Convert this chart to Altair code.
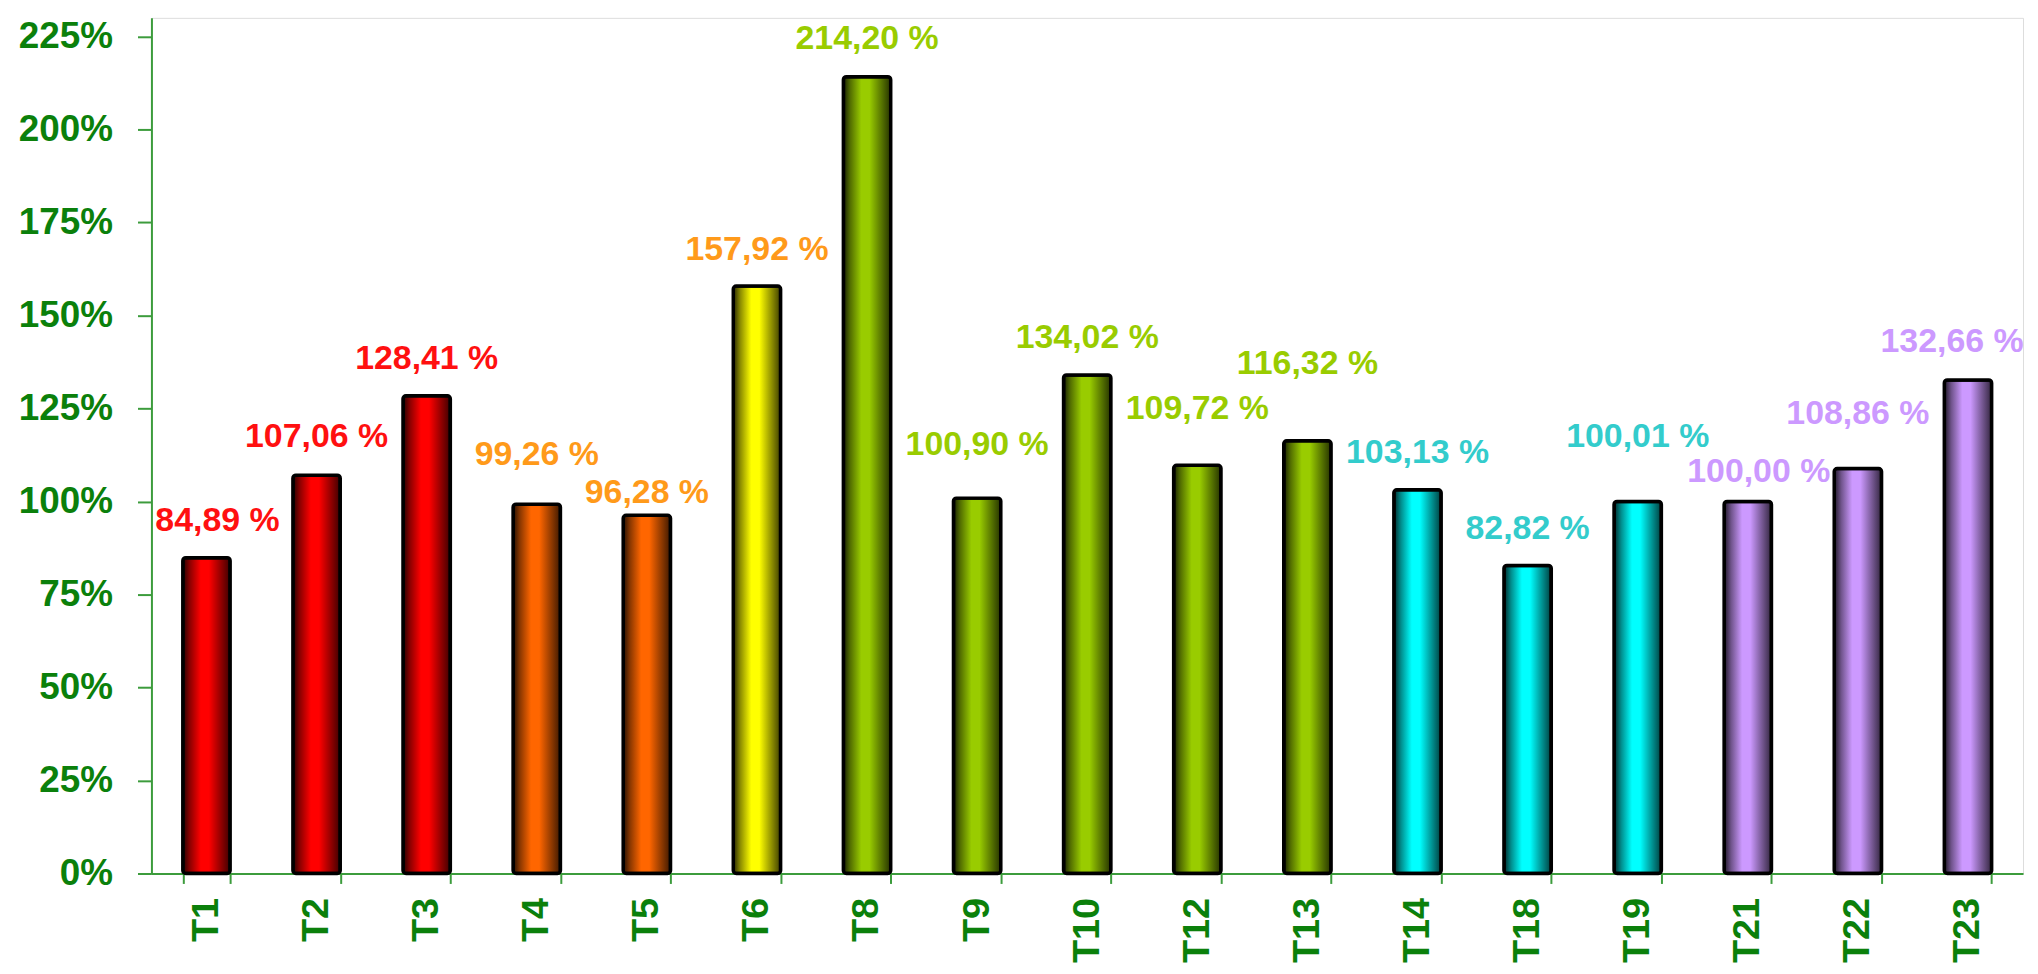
import altair as alt
import pandas as pd

categories = ["T1", "T2", "T3", "T4", "T5", "T6", "T8", "T9", "T10", "T12",
              "T13", "T14", "T18", "T19", "T21", "T22", "T23"]
values = [84.89, 107.06, 128.41, 99.26, 96.28, 157.92, 214.20, 100.90, 134.02,
          109.72, 116.32, 103.13, 82.82, 100.01, 100.00, 108.86, 132.66]
bar_groups = ["red", "red", "red", "orange", "orange", "yellow", "green", "green",
              "green", "green", "green", "cyan", "cyan", "cyan", "lavender",
              "lavender", "lavender"]
label_groups = ["red", "red", "red", "orange", "orange", "orange", "green", "green",
                "green", "green", "green", "cyan", "cyan", "cyan", "lavender",
                "lavender", "lavender"]
# where each value label sits (in % of the y axis), as placed in the original
label_anchor = [94.7, 117.2, 138.3, 112.6, 102.2, 167.7, 224.2, 115.3, 143.9,
                124.9, 137.0, 112.9, 92.6, 117.2, 107.8, 123.6, 142.9]
y_ticks = [0, 25, 50, 75, 100, 125, 150, 175, 200, 225]

bar_colors = {"red": "#FF0000", "orange": "#FF6600", "yellow": "#FFFF00",
              "green": "#99CC00", "cyan": "#00FFFF", "lavender": "#CC99FF"}
label_colors = {"red": "#FF1010", "orange": "#FF9A1A", "green": "#99CC00",
                "cyan": "#33CCCC", "lavender": "#CC99FF"}
label_nudge = {"T1": 11, "T21": 11, "T23": -16}

df = pd.DataFrame({
    "cat": categories,
    "value": values,
    "bgroup": bar_groups,
    "lgroup": label_groups,
    "ly": label_anchor,
})
df["label"] = [f"{v:.2f}".replace(".", ",") + " %" for v in values]

FONT = "Liberation Sans"
AXIS_GREEN = "#3C9C3C"
TEXT_GREEN = "#0B800B"


def shade(hex_color, f):
    h = hex_color.lstrip("#")
    r, g, b = (int(h[i:i + 2], 16) for i in (0, 2, 4))
    return "#{:02x}{:02x}{:02x}".format(int(r * f), int(g * f), int(b * f))


x_enc = alt.X("cat:N", sort=categories, title=None,
              scale=alt.Scale(paddingInner=0.57, paddingOuter=0.285),
              axis=alt.Axis(labelAngle=-90, labelFont=FONT, labelFontSize=38,
                            labelFontWeight="bold", labelColor=TEXT_GREEN,
                            labelPadding=14, tickSize=10, tickBand="extent",
                            tickColor=AXIS_GREEN, tickWidth=2,
                            domainColor=AXIS_GREEN, domainWidth=2,
                            labelOverlap=False))
y_scale = alt.Scale(domain=[0, 230], nice=False)
y_enc = alt.Y("value:Q", scale=y_scale, title=None,
              axis=alt.Axis(values=y_ticks, labelExpr="datum.value + '%'",
                            labelFont=FONT, labelFontSize=37, labelFontWeight="bold",
                            labelColor=TEXT_GREEN, labelPadding=25, tickSize=14,
                            tickColor=AXIS_GREEN, tickWidth=2, grid=False,
                            domainColor=AXIS_GREEN, domainWidth=2))

base = alt.Chart(df)
layers = []
for grp, col in bar_colors.items():
    grad = alt.Gradient(
        gradient="linear", x1=0, x2=1, y1=0, y2=0,
        stops=[alt.GradientStop(offset=0, color=shade(col, 0.15)),
               alt.GradientStop(offset=0.15, color=shade(col, 0.55)),
               alt.GradientStop(offset=0.38, color=col),
               alt.GradientStop(offset=0.55, color=col),
               alt.GradientStop(offset=0.85, color=shade(col, 0.5)),
               alt.GradientStop(offset=1, color=shade(col, 0.25))])
    layers.append(
        base.transform_filter(alt.datum.bgroup == grp)
        .mark_bar(color=grad, stroke="#000000", strokeWidth=3.5, cornerRadius=3)
        .encode(x=x_enc, y=y_enc)
    )

color_enc = alt.Color("lgroup:N", legend=None,
                      scale=alt.Scale(domain=list(label_colors.keys()),
                                      range=list(label_colors.values())))


def text_layer(dx, cond):
    return (base.transform_filter(cond)
            .mark_text(font=FONT, fontSize=34, fontWeight="bold",
                       align="center", baseline="middle", dx=dx)
            .encode(x=alt.X("cat:N", sort=categories),
                    y=alt.Y("ly:Q", scale=y_scale),
                    text="label:N", color=color_enc))


nudged = list(label_nudge.keys())
layers.append(text_layer(0, ~alt.FieldOneOfPredicate(field="cat", oneOf=nudged)))
for c, d in label_nudge.items():
    layers.append(text_layer(d, alt.datum.cat == c))

chart = alt.layer(*layers).properties(
    width=1879, height=859,
    autosize=alt.AutoSizeParams(type="none"),
    padding={"left": 144, "top": 8, "right": 7, "bottom": 95},
).configure_view(stroke=None).configure(background="white")

chart.save("out.html", embed_options={"renderer": "svg", "actions": False})
